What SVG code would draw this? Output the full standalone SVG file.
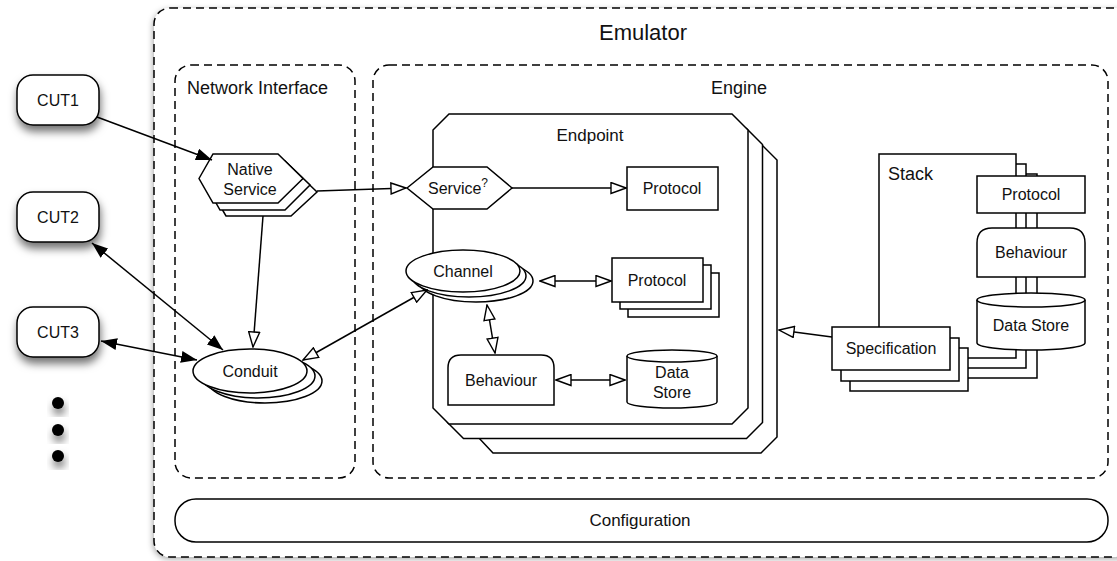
<svg xmlns="http://www.w3.org/2000/svg" width="1117" height="561" viewBox="0 0 1117 561">
  <defs>
    <filter id="shadow" x="-40%" y="-40%" width="180%" height="200%">
      <feDropShadow dx="1" dy="6" stdDeviation="4" flood-color="#000" flood-opacity="0.55"/>
    </filter>
    <filter id="boxShadow" x="-5%" y="-5%" width="110%" height="110%">
      <feDropShadow dx="-1" dy="2" stdDeviation="3" flood-color="#000" flood-opacity="0.35"/>
    </filter>
    <marker id="solid" viewBox="0 0 16 12" markerUnits="userSpaceOnUse" markerWidth="16" markerHeight="12" refX="16" refY="6" orient="auto-start-reverse">
      <path d="M0,0 L16,6 L0,12 Z" fill="#000"/>
    </marker>
    <marker id="hollow" viewBox="0 0 17 13" markerUnits="userSpaceOnUse" markerWidth="17" markerHeight="13" refX="16" refY="6.5" orient="auto-start-reverse">
      <path d="M1,1 L16,6.5 L1,12 Z" fill="#fff" stroke="#000" stroke-width="1.4"/>
    </marker>
  </defs>
  <style>
    text { font-family: "Liberation Sans", Arial, sans-serif; fill: #111; }
    .lbl { font-size: 16px; text-anchor: middle; }
    .title { font-size: 18px; }
    .shape { fill: #fff; stroke: #000; stroke-width: 1.5; }
    .dash { fill: none; stroke: #000; stroke-width: 1.5; stroke-dasharray: 8 5; }
    .edge { fill: none; stroke: #000; stroke-width: 1.5; }
  </style>

  <rect width="1117" height="561" fill="#fff"/>

  <!-- containers -->
  <g id="emulator">
    <rect x="154" y="8" width="980" height="549" rx="16" fill="#fff" filter="url(#boxShadow)"/>
    <rect x="154" y="8" width="980" height="549" rx="16" class="dash"/>
    <text x="643" y="40" style="font-size:22px" text-anchor="middle">Emulator</text>
  </g>
  <g id="network-interface">
    <rect x="175" y="65" width="180" height="413" rx="16" class="dash"/>
    <text x="187" y="94" class="title">Network Interface</text>
  </g>
  <g id="engine">
    <rect x="373" y="65" width="735" height="413" rx="16" class="dash"/>
    <text x="739" y="94" class="title" text-anchor="middle">Engine</text>
  </g>
  <g id="configuration">
    <rect x="175" y="499" width="933" height="43" rx="21" class="shape"/>
    <text x="640" y="526" class="lbl" style="font-size:17px">Configuration</text>
  </g>

  <!-- external clients -->
  <g id="cut1">
    <rect x="17" y="75" width="82" height="50" rx="16" class="shape" filter="url(#shadow)"/>
    <text x="58" y="106" class="lbl">CUT1</text>
  </g>
  <g id="cut2">
    <rect x="17" y="192" width="82" height="50" rx="16" class="shape" filter="url(#shadow)"/>
    <text x="58" y="223" class="lbl">CUT2</text>
  </g>
  <g id="cut3">
    <rect x="17" y="307" width="82" height="50" rx="16" class="shape" filter="url(#shadow)"/>
    <text x="58" y="338" class="lbl">CUT3</text>
  </g>
  <g id="more-cuts">
    <circle cx="58" cy="403" r="6" fill="#000" filter="url(#shadow)"/>
    <circle cx="58" cy="430" r="6" fill="#000" filter="url(#shadow)"/>
    <circle cx="58" cy="456" r="6" fill="#000" filter="url(#shadow)"/>
  </g>

  <!-- endpoint (stacked) -->
  <g id="endpoint">
    <path d="M478,159 L493,144 H761 L777,160 V437 L761,453 H493 L478,437 Z" class="shape"/>
    <path d="M447.5,144.5 L463.5,128.5 H746.5 L762.5,144.5 V422.5 L746.5,438.5 H463.5 L447.5,422.5 Z" class="shape"/>
    <path d="M433,130 L449,114 H732 L748,130 V408 L732,424 H449 L433,408 Z" class="shape"/>
    <text x="590" y="141" class="lbl" style="font-size:17px">Endpoint</text>
  </g>

  <!-- stack (stacked) -->
  <g id="stack">
    <rect x="900" y="174" width="137" height="204" class="shape"/>
    <rect x="889" y="164" width="137" height="204" class="shape"/>
    <rect x="879" y="154" width="137" height="204" class="shape"/>
    <text x="888" y="180" class="title">Stack</text>
  </g>

  <g id="stack-protocol">
    <rect x="977" y="176" width="108" height="37" class="shape"/>
    <text x="1031" y="200" class="lbl">Protocol</text>
  </g>
  <g id="stack-behaviour">
    <path d="M977,277 V243 Q977,228 992,228 H1070 Q1085,228 1085,243 V277 Z" class="shape"/>
    <text x="1031" y="258" class="lbl">Behaviour</text>
  </g>
  <g id="stack-datastore">
    <path d="M977,300 V343 A54,7 0 0 0 1085,343 V300" class="shape"/>
    <ellipse cx="1031" cy="300" rx="54" ry="7" class="shape"/>
    <text x="1031" y="331" class="lbl">Data Store</text>
  </g>

  <g id="specification">
    <rect x="850" y="348" width="118" height="43" class="shape"/>
    <rect x="841" y="338" width="118" height="43" class="shape"/>
    <rect x="832" y="327" width="118" height="43" class="shape"/>
    <text x="891" y="354" class="lbl">Specification</text>
  </g>

  <!-- network interface nodes -->
  <g id="native-service">
    <path d="M212,192 L226,167 H291 L317,192 L291,216 H226 Z" class="shape"/>
    <path d="M206,185 L220,161 H285 L310,185 L285,210 H220 Z" class="shape"/>
    <path d="M199,178.5 L213,154 H278 L303,178.5 L278,203 H213 Z" class="shape"/>
    <text x="250" y="175" class="lbl">Native</text>
    <text x="250" y="195" class="lbl">Service</text>
  </g>
  <g id="conduit">
    <ellipse cx="265" cy="381" rx="57" ry="22" class="shape"/>
    <ellipse cx="258" cy="376" rx="57" ry="22" class="shape"/>
    <ellipse cx="250" cy="371" rx="57" ry="22" class="shape"/>
    <text x="250" y="377" class="lbl">Conduit</text>
  </g>

  <!-- endpoint contents -->
  <g id="service">
    <path d="M407,188 L433,167 H487 L512,188 L487,209 H433 Z" class="shape"/>
    <text x="428" y="194" style="font-size:16px">Service<tspan dy="-7" style="font-size:12px">?</tspan></text>
  </g>
  <g id="protocol">
    <rect x="627" y="167" width="91" height="43" class="shape"/>
    <text x="672" y="194" class="lbl">Protocol</text>
  </g>
  <g id="channel">
    <ellipse cx="476" cy="281" rx="57" ry="21" class="shape"/>
    <ellipse cx="469" cy="276" rx="57" ry="21" class="shape"/>
    <ellipse cx="463" cy="271" rx="57" ry="21" class="shape"/>
    <text x="463" y="277" class="lbl">Channel</text>
  </g>
  <g id="protocol-set">
    <rect x="628" y="273" width="91" height="44" class="shape"/>
    <rect x="620" y="265" width="91" height="44" class="shape"/>
    <rect x="612" y="258" width="91" height="44" class="shape"/>
    <text x="657" y="286" class="lbl">Protocol</text>
  </g>
  <g id="behaviour">
    <path d="M448,405 V368 Q448,355 461,355 H541 Q554,355 554,368 V405 Z" class="shape"/>
    <text x="501" y="386" class="lbl">Behaviour</text>
  </g>
  <g id="datastore">
    <path d="M627,356 V402 A45,6 0 0 0 717,402 V356" class="shape"/>
    <ellipse cx="672" cy="356" rx="45" ry="6" class="shape"/>
    <text x="672" y="378" class="lbl">Data</text>
    <text x="672" y="398" class="lbl">Store</text>
  </g>

  <!-- connectors -->
  <g id="connectors">
    <line x1="97" y1="117" x2="212" y2="160" class="edge" marker-end="url(#solid)"/>
    <line x1="92" y1="243" x2="223" y2="350" class="edge" marker-start="url(#solid)" marker-end="url(#solid)"/>
    <line x1="101" y1="341" x2="197" y2="360" class="edge" marker-start="url(#solid)" marker-end="url(#solid)"/>
    <line x1="263" y1="216" x2="253" y2="347" class="edge" marker-end="url(#hollow)"/>
    <line x1="317" y1="191" x2="406" y2="188" class="edge" marker-end="url(#hollow)"/>
    <line x1="512" y1="188" x2="626" y2="188" class="edge" marker-end="url(#hollow)"/>
    <line x1="303" y1="360" x2="427" y2="290" class="edge" marker-start="url(#hollow)" marker-end="url(#hollow)"/>
    <line x1="540" y1="281" x2="611" y2="281" class="edge" marker-start="url(#hollow)" marker-end="url(#hollow)"/>
    <line x1="487" y1="305" x2="495" y2="353" class="edge" marker-start="url(#hollow)" marker-end="url(#hollow)"/>
    <line x1="556" y1="380" x2="625" y2="380" class="edge" marker-start="url(#hollow)" marker-end="url(#hollow)"/>
    <line x1="832" y1="337" x2="779" y2="330" class="edge" marker-end="url(#hollow)"/>
  </g>
</svg>
